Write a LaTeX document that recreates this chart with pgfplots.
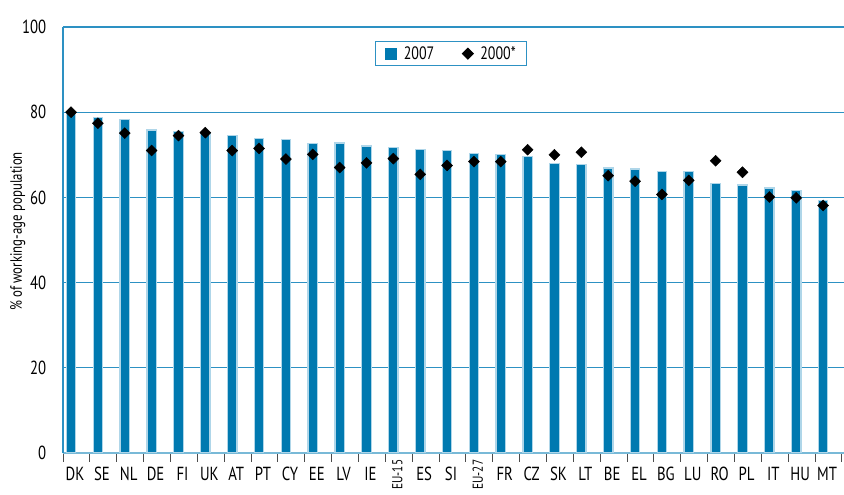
\documentclass[border=0pt]{standalone}
\usepackage{fontspec}
\setmainfont{PT Sans}[FakeStretch=0.78]
\usepackage{pgfplots}
\usepackage{pgfplotstable}
\pgfplotsset{compat=1.18}

\definecolor{barblue}{RGB}{0,121,176}
\definecolor{baredge}{RGB}{175,214,233}
\definecolor{gridblue}{RGB}{45,145,195}
\definecolor{axislight}{RGB}{120,185,215}

% rotated tick label, lifted a little so it fits above the lower edge
\newcommand{\rotlab}[1]{\raisebox{0pt}[\dimexpr\height-7bp\relax][0pt]{\rotatebox{90}{\fontsize{14.5}{16}\selectfont #1}}}

% k, 2007 value (bars), 2000 value (diamonds)
\pgfplotstableread{
k  y07   y00
0  80.1  80.0
1  78.8  77.4
2  78.3  75.1
3  75.8  71.0
4  75.4  74.5
5  75.3  75.2
6  74.6  71.0
7  73.9  71.5
8  73.6  69.0
9  72.7  70.1
10 72.8  67.0
11 72.1  68.1
12 71.7  69.1
13 71.3  65.4
14 71.0  67.5
15 70.3  68.4
16 70.1  68.4
17 69.6  71.2
18 68.0  70.0
19 67.7  70.6
20 66.9  65.1
21 66.7  63.8
22 66.1  60.7
23 66.1  64.0
24 63.2  68.6
25 62.9  65.9
26 62.2  60.1
27 61.7  59.9
28 59.2  58.1
}\rates

\begin{document}
\begin{tikzpicture}
\begin{axis}[name=ax,
  scale only axis, width=781bp, height=426bp,
  xmin=-0.3, xmax=28.78, ymin=0, ymax=100,
  axis lines*=left,
  x axis line style={axislight, line width=1.2bp},
  y axis line style={gridblue, line width=1.2bp},
  ytick={0,20,...,100},
  ymajorgrids, grid style={gridblue, line width=1.1bp},
  ytick style={draw=none},
  xtick={0,...,28},
  xticklabels={DK,SE,NL,DE,FI,UK,AT,PT,CY,EE,LV,IE,\rotlab{EU-15},ES,SI,\rotlab{EU-27},FR,CZ,SK,LT,BE,EL,BG,LU,RO,PL,IT,HU,MT},
  major x tick style={draw=none},
  minor xtick={-0.3,0.7,...,28.8},
  minor tick length=9bp,
  minor x tick style={black!70, line width=0.9bp},
  tick align=outside,
  xticklabel style={font=\fontsize{19}{21}\selectfont, xshift=4bp, yshift=-6bp},
  yticklabel style={font=\fontsize{19}{21}\selectfont, xshift=-9bp},
  /pgf/number format/assume math mode=true,
  ylabel={\% of working-age population},
  every axis y label/.style={at={(axis description cs:-0.058,0.52)}, rotate=90, anchor=center,
    font=\fontsize{16.5}{18}\selectfont},
  legend style={at={(0.497,0.967)}, anchor=north, draw=gridblue, line width=0.9bp,
    legend columns=2, font=\fontsize{18}{20}\selectfont,
    inner xsep=9bp, inner ysep=3bp,
    /tikz/every odd column/.append style={column sep=5bp},
    /tikz/every even column/.append style={column sep=26bp}},
]
\addplot[ybar, bar width=9.5bp, bar shift=0pt, fill=barblue, draw=baredge, line width=1.3bp,
  legend image code/.code={\fill[barblue] (0bp,-5.5bp) rectangle (11bp,5.5bp);}]
  table[x=k, y=y07] {\rates};
\addlegendentry{2007}
\addplot[only marks, mark=square*, mark size=3.9bp, mark options={rotate=45, fill=black, draw=black}]
  table[x=k, y=y00] {\rates};
\addlegendentry{2000*}
\end{axis}
\pgfresetboundingbox
\path[use as bounding box] ([xshift=-63bp, yshift=-42bp]ax.south west) rectangle ([yshift=27bp]ax.north east);
\end{tikzpicture}
\end{document}
